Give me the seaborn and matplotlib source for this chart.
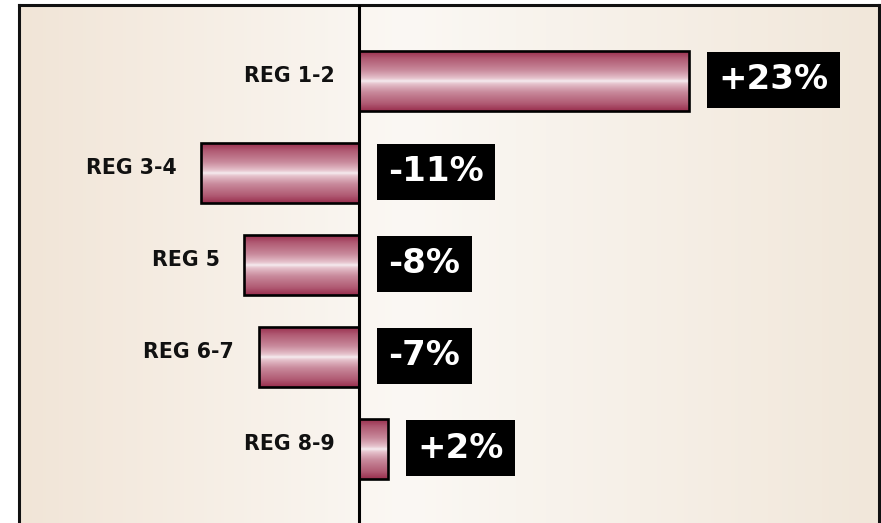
"""
REGIONAL CHANGE - HORIZONTAL BAR CHART
Gradient bars with black value boxes, drawn with seaborn.
"""

# ==================================
# Import Libraries
# ==================================

import numpy as np
import pandas as pd
import seaborn as sns
import matplotlib.pyplot as plt
from matplotlib.colors import LinearSegmentedColormap


# ==================================
# Data
# ==================================

regions = ['REG 1-2', 'REG 3-4', 'REG 5', 'REG 6-7', 'REG 8-9']
changes = [23, -11, -8, -7, 2]
value_labels = ['+23%', '-11%', '-8%', '-7%', '+2%']

df = pd.DataFrame({'region': regions, 'change': changes})


# ==================================
# Figure and background
# ==================================

sns.set_style('white')
plt.rcParams['font.family'] = ['DejaVu Sans']

fig = plt.figure(figsize=(8.81, 5.23), dpi=100)
pos = [19 / 881, 0.0, 860 / 881, 518 / 523]

# background gradient (beige at the edges, lighter in the middle)
bg = fig.add_axes(pos, zorder=0)
bg_cmap = LinearSegmentedColormap.from_list(
    'bg', [(0.0, '#f1e5d7'), (0.45, '#fbf8f4'), (1.0, '#f1e7da')])
bg.imshow(np.linspace(0, 1, 256).reshape(1, -1), cmap=bg_cmap,
          aspect='auto', extent=[0, 1, 0, 1])
bg.axis('off')

ax = fig.add_axes(pos, zorder=1)
ax.set_facecolor('none')


# ==================================
# Bar Plot
# ==================================

sns.barplot(data=df, x='change', y='region', orient='h', width=0.65,
            color='#b5607a', edgecolor='black', linewidth=1.9, ax=ax)

# vertical gradient inside each bar (light band in the middle)
bar_cmap = LinearSegmentedColormap.from_list(
    'bar', [(0.0, '#f6eef1'), (0.15, '#e6c3cd'), (0.45, '#c98a9c'),
            (0.8, '#b05a73'), (1.0, '#9a2f4e')])
u = np.linspace(0, 1, 200)
grad = np.abs(2 * u - 1) ** 0.8
for p in ax.patches:
    x0, y0 = p.get_x(), p.get_y()
    w, h = p.get_width(), p.get_height()
    ax.imshow(grad.reshape(-1, 1), cmap=bar_cmap, aspect='auto',
              extent=[x0, x0 + w, y0 + h, y0], zorder=2, vmin=0, vmax=1)
    p.set_facecolor('none')
    p.set_zorder(3)

ax.axvline(0, color='black', lw=2.2, zorder=4)

ax.set_xlim(-23.7, 36.2)
ax.set_ylim(4.80, -0.83)


# ==================================
# Labels
# ==================================

for i, (reg, v, lab) in enumerate(zip(regions, changes, value_labels)):
    ax.annotate(reg, xy=(min(v, 0), i), xytext=(-18, 4),
                textcoords='offset points', ha='right', va='center',
                fontsize=14.8, fontweight='bold', color='#111111')
    ax.annotate(lab, xy=(max(v, 0), i), xytext=(21, 1),
                textcoords='offset points', ha='left', va='center',
                fontsize=24.5, fontweight='bold', color='white',
                bbox=dict(boxstyle='square,pad=0.33', fc='black', ec='none'))

ax.set_xlabel('')
ax.set_ylabel('')
ax.set_xticks([])
ax.set_yticks([])

for side in ['top', 'left', 'right']:
    ax.spines[side].set_visible(True)
    ax.spines[side].set_linewidth(2.2)
    ax.spines[side].set_color('#111111')
ax.spines['bottom'].set_visible(False)

plt.savefig('out.png', dpi=100)
